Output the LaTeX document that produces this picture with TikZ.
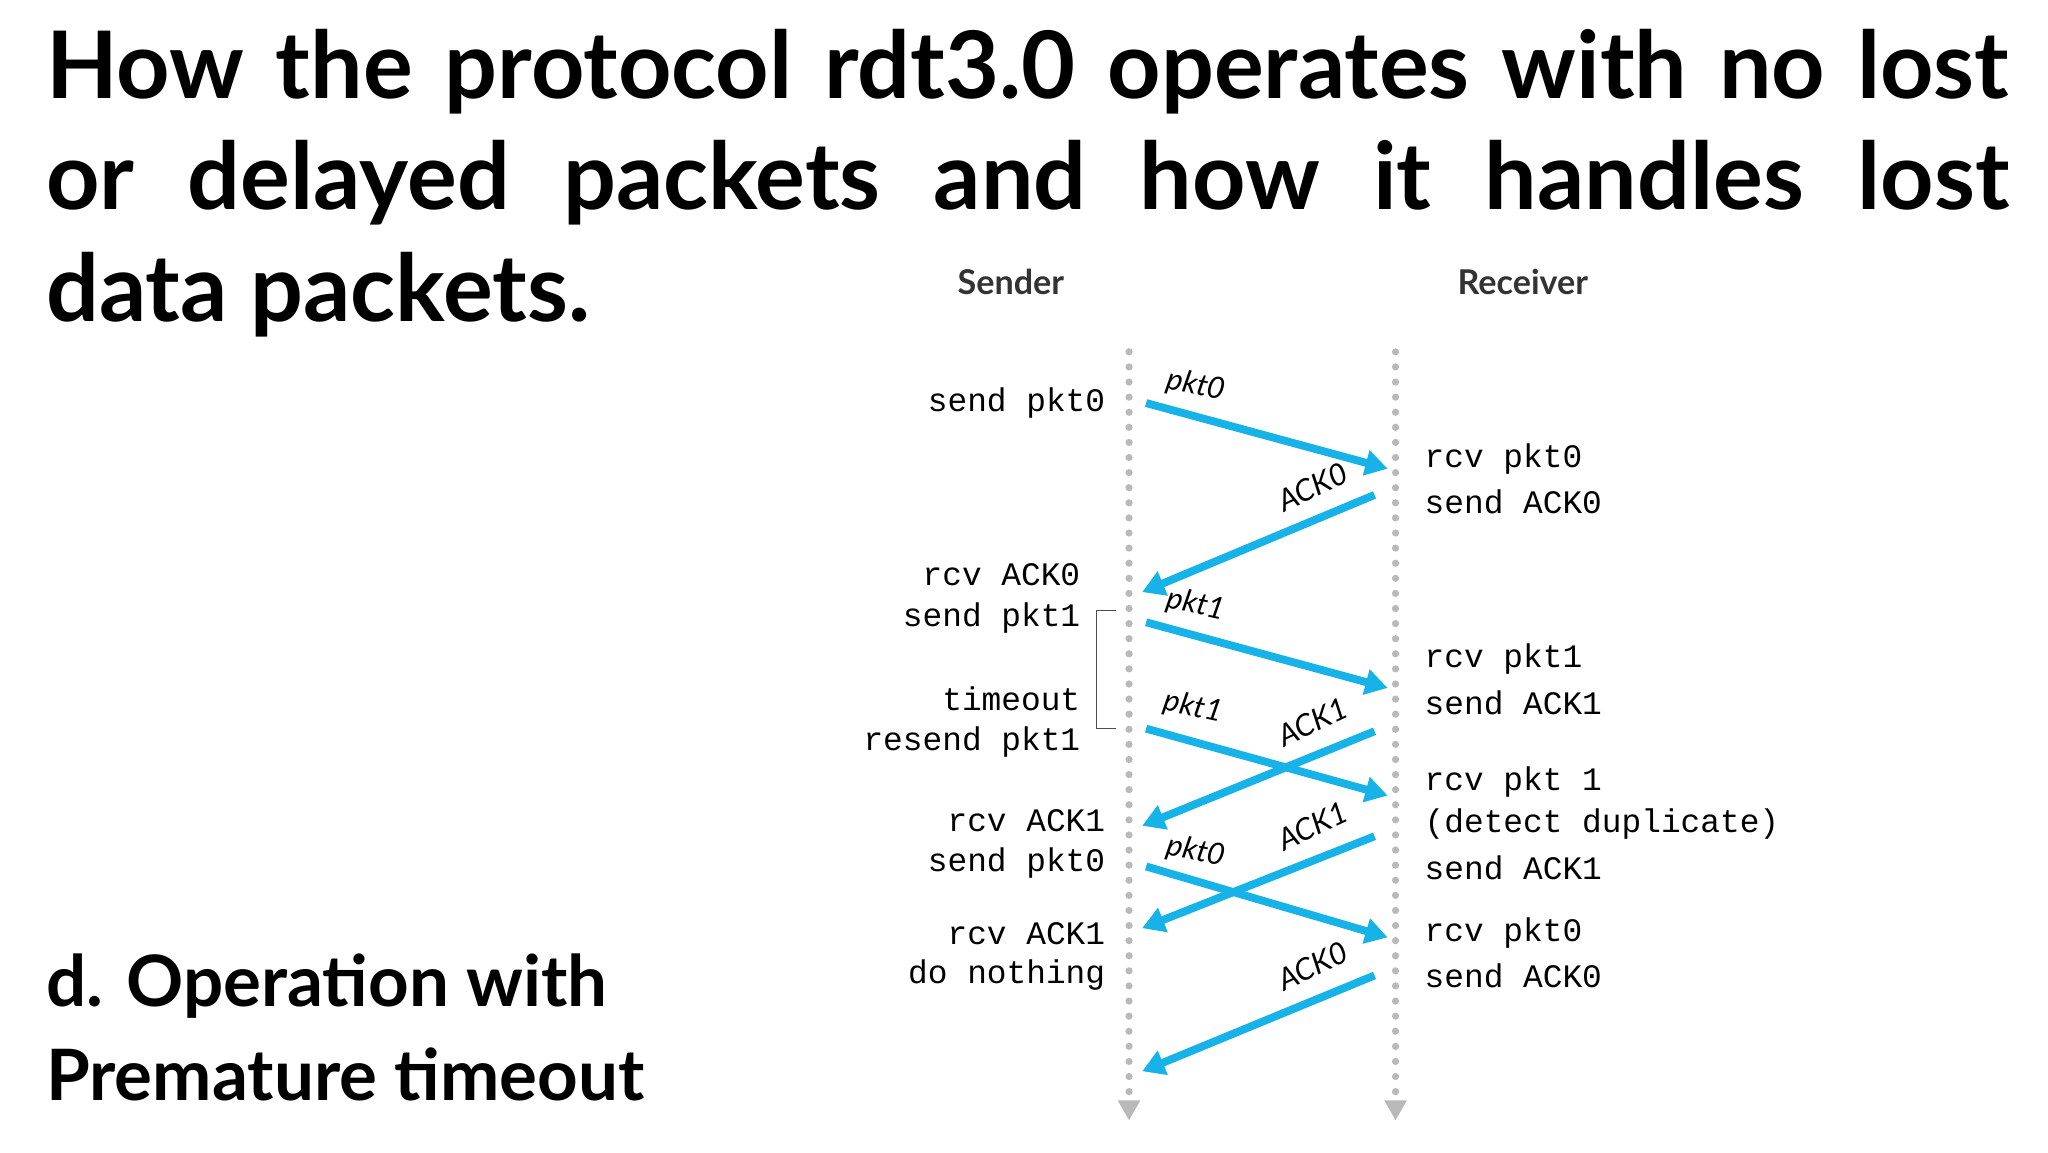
\documentclass[tikz,border=0pt]{standalone}
\usepackage{fontspec}
\setmainfont{Lato}
\newfontfamily\monofont{Liberation Mono}
\usetikzlibrary{arrows.meta, positioning, shapes.geometric}
\definecolor{pktblue}{RGB}{22,178,232}
\definecolor{lanegray}{RGB}{185,185,185}
\begin{document}
\begin{tikzpicture}[x=1pt,y=-1pt,
    msg/.style={line width=6pt,pktblue,-{Triangle[length=17pt,width=19pt]}},
    lane/.style={line width=5.5pt,lanegray,line cap=round,dash pattern=on 0pt off 11.5pt},
    ev/.style={font=\monofont\fontsize{25}{30}\selectfont,inner sep=0pt},
    tag/.style={font=\itshape\fontsize{23}{26}\selectfont,inner sep=1pt},
    head/.style={font=\bfseries\fontsize{26}{30}\selectfont,text=black!80}]
    \useasboundingbox (0,0) rectangle (1560,878);

    % title and caption
    \node[anchor=north west,inner sep=0pt,text width=1495pt,align=justify,
          font=\bfseries\fontsize{71}{85}\selectfont] (title) at (35,22)
          {How the protocol rdt3.0 operates with no lost or delayed packets and how it handles lost\linebreak data packets.};
    \node[anchor=north west,inner sep=0pt,align=left,
          font=\bfseries\fontsize{54}{72}\selectfont] (caption) at (35,726)
          {d. Operation with\\Premature timeout};

    \node[head] (sender) at (770,215) {Sender};
    \node[head] (receiver) at (1160,215) {Receiver};

    % time lines
    \coordinate (s_top) at (860,268);
    \coordinate (s_bot) at (860,838);
    \coordinate (r_top) at (1063,268);
    \coordinate (r_bot) at (1063,838);
    \draw[lane] (s_top) -- (s_bot);
    \draw[lane] (r_top) -- (r_bot);
    \node[lanegray,fill,isosceles triangle,isosceles triangle apex angle=60,shape border rotate=-90,
          inner sep=0pt,minimum size=15pt] (s_tip) [below=0pt of s_bot] {};
    \node[lanegray,fill,isosceles triangle,isosceles triangle apex angle=60,shape border rotate=-90,
          inner sep=0pt,minimum size=15pt] (r_tip) [below=0pt of r_bot] {};

    % message end points
    \coordinate (s_1) at (873,307);  \coordinate (r_1) at (1057,357);
    \coordinate (r_2) at (1047,377); \coordinate (s_2) at (870,451);
    \coordinate (s_3) at (873,474);  \coordinate (r_3) at (1057,524);
    \coordinate (s_4) at (873,555);  \coordinate (r_4) at (1057,606);
    \coordinate (r_5) at (1047,557); \coordinate (s_5) at (870,629);
    \coordinate (s_6) at (873,660);  \coordinate (r_6) at (1057,714);
    \coordinate (r_7) at (1047,637); \coordinate (s_7) at (870,707);
    \coordinate (r_8) at (1047,743); \coordinate (s_8) at (870,816);

    \draw[msg] (s_1) -- (r_1);
    \draw[msg] (r_2) -- (s_2);
    \draw[msg] (s_3) -- (r_3);
    \draw[msg] (s_4) -- (r_4);
    \draw[msg] (r_5) -- (s_5);
    \draw[msg] (s_6) -- (r_6);
    \draw[msg] (r_7) -- (s_7);
    \draw[msg] (r_8) -- (s_8);

    \node[tag,rotate=-12] (t_1) at (911,294) {pkt0};
    \node[tag,rotate=25] (t_2) at (1000,371) {ACK0};
    \node[tag,rotate=-12] (t_3) at (911,461) {pkt1};
    \node[tag,rotate=-12] (t_4) at (909,539) {pkt1};
    \node[tag,rotate=25] (t_5) at (1000,550) {ACK1};
    \node[tag,rotate=-12] (t_6) at (911,649) {pkt0};
    \node[tag,rotate=25] (t_7) at (1000,629) {ACK1};
    \node[tag,rotate=25] (t_8) at (1000,736) {ACK0};

    % sender events
    \node[ev,anchor=east] (e_1) at (842,307) {send pkt0};
    \node[ev,anchor=east] (e_2) at (823,438) {rcv ACK0};
    \node[ev,anchor=east] (e_3) at (823,471) {send pkt1};
    \node[ev,anchor=east] (e_4) at (823,532) {timeout};
    \node[ev,anchor=east] (e_5) at (823,565) {resend pkt1};
    \node[ev,anchor=east] (e_6) at (842,625) {rcv ACK1};
    \node[ev,anchor=east] (e_7) at (842,657) {send pkt0};
    \node[ev,anchor=east] (e_8) at (842,711) {rcv ACK1};
    \node[ev,anchor=east] (e_9) at (842,743) {do nothing};
    \draw[black!70,line width=1pt] (850,465) -- (835,465) -- (835,555) -- (850,555);

    % receiver events
    \node[ev,anchor=west] (f_1) at (1085,350) {rcv pkt0};
    \node[ev,anchor=west] (f_2) at (1085,382) {send ACK0};
    \node[ev,anchor=west] (f_3) at (1085,502) {rcv pkt1};
    \node[ev,anchor=west] (f_4) at (1085,535) {send ACK1};
    \node[ev,anchor=west] (f_5) at (1085,596) {rcv pkt 1};
    \node[ev,anchor=west] (f_6) at (1085,628) {(detect duplicate)};
    \node[ev,anchor=west] (f_7) at (1085,661) {send ACK1};
    \node[ev,anchor=west] (f_8) at (1085,711) {rcv pkt0};
    \node[ev,anchor=west] (f_9) at (1085,743) {send ACK0};
\end{tikzpicture}
\end{document}
